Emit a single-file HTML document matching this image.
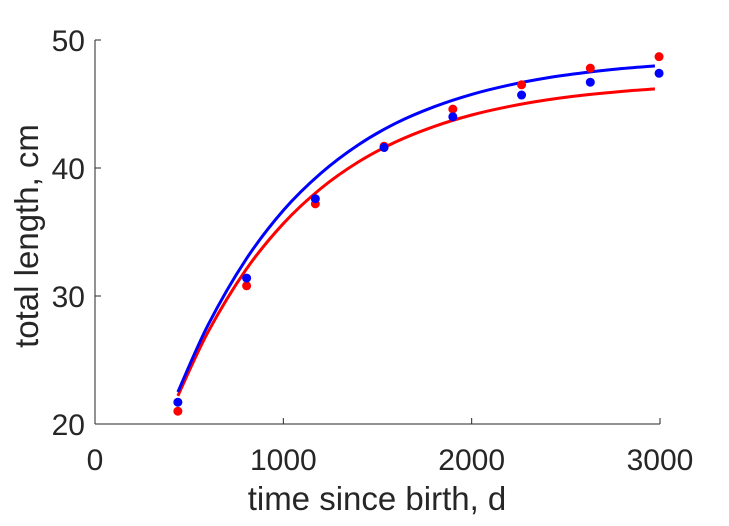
<!DOCTYPE html>
<html><head><meta charset="utf-8"><style>
html,body{margin:0;padding:0;background:#fff;}
svg text{font-family:"Liberation Sans",Arial,sans-serif;fill:#262626;}
</style></head><body>
<svg id="chart" width="729" height="521" viewBox="0 0 729 521" xmlns="http://www.w3.org/2000/svg">
<g id="axes"></g>
<g id="marks"></g>
<text x="377" y="510" font-size="33" text-anchor="middle">time since birth, d</text>
<text transform="translate(38,236) rotate(-90)" font-size="33" text-anchor="middle">total length, cm</text>
</svg>
<script>
const dataX = [440, 805, 1170, 1535, 1900, 2265, 2630, 2995];
const redY = [21.0, 30.8, 37.2, 41.7, 44.6, 46.5, 47.8, 48.7];
const blueY = [21.7, 31.4, 37.6, 41.6, 44.0, 45.7, 46.7, 47.4];
const curveX = [440, 600, 800, 1000, 1200, 1400, 1600, 1800, 2000, 2200, 2400, 2600, 2800, 2973];
const redCurve = [22.2, 27.18, 32.02, 35.66, 38.41, 40.49, 42.06, 43.24, 44.14, 44.81, 45.32, 45.70, 45.99, 46.18];
const blueCurve = [22.5, 27.73, 32.82, 36.69, 39.60, 41.83, 43.52, 44.78, 45.75, 46.48, 47.04, 47.45, 47.77, 47.98];
const xTicks = [0, 1000, 2000, 3000];
const yTicks = [20, 30, 40, 50];

const NS = "http://www.w3.org/2000/svg";
const X0 = 95, X1 = 660, Y0 = 424, Y1 = 40;
function sx(v){ return X0 + (v - 0) / 3000 * (X1 - X0); }
function sy(v){ return Y0 - (v - 20) / 30 * (Y0 - Y1); }
function mk(tag, attrs, parent){ const e = document.createElementNS(NS, tag); for (const k in attrs) e.setAttribute(k, attrs[k]); parent.appendChild(e); return e; }

const axes = document.getElementById('axes');
const marks = document.getElementById('marks');
const yAxis = mk('line', {x1:X0, y1:Y0, x2:X0, y2:Y1, stroke:'#262626', 'stroke-width':1}, axes);


const xAxis = mk('line', {x1:X0, y1:Y0, x2:X1, y2:Y0, stroke:'#262626', 'stroke-width':1}, axes);



xTicks.forEach(t => {
  const x = sx(t);
  const tk = mk('line', {x1:x, y1:Y0, x2:x, y2:Y0-6, stroke:'#262626', 'stroke-width':1}, axes);
  
  
  const lb = mk('text', {x:x, y:Y0+46, 'font-size':30, 'text-anchor':'middle'}, axes);
  lb.textContent = t;
  
  
});
yTicks.forEach(t => {
  const y = sy(t);
  const tk = mk('line', {x1:X0, y1:y, x2:X0+6, y2:y, stroke:'#262626', 'stroke-width':1}, axes);
  
  
  const lb = mk('text', {x:X0-10, y:y+11, 'font-size':30, 'text-anchor':'end'}, axes);
  lb.textContent = t;
  
  
});

function smoothPath(xs, ys){
  const p = xs.map((x,i)=>[sx(x), sy(ys[i])]);
  let d = 'M' + p[0][0] + ',' + p[0][1];
  for (let i = 0; i < p.length - 1; i++) {
    const p0 = p[Math.max(0,i-1)], p1 = p[i], p2 = p[i+1], p3 = p[Math.min(p.length-1,i+2)];
    const c1 = [p1[0] + (p2[0]-p0[0])/6, p1[1] + (p2[1]-p0[1])/6];
    const c2 = [p2[0] - (p3[0]-p1[0])/6, p2[1] - (p3[1]-p1[1])/6];
    d += ' C' + c1[0] + ',' + c1[1] + ' ' + c2[0] + ',' + c2[1] + ' ' + p2[0] + ',' + p2[1];
  }
  return d;
}
const rl = mk('path', {d:smoothPath(curveX, redCurve), fill:'none', stroke:'#ff0000', 'stroke-width':3}, marks);


const bl = mk('path', {d:smoothPath(curveX, blueCurve), fill:'none', stroke:'#0000ff', 'stroke-width':3}, marks);



dataX.forEach((x,i) => {
  const c = mk('circle', {cx:sx(x), cy:sy(redY[i]), r:4.5, fill:'#ff0000'}, marks);
  
  
});
dataX.forEach((x,i) => {
  const c = mk('circle', {cx:sx(x), cy:sy(blueY[i]), r:4.5, fill:'#0000ff'}, marks);
  
  
});
</script>
</body></html>
